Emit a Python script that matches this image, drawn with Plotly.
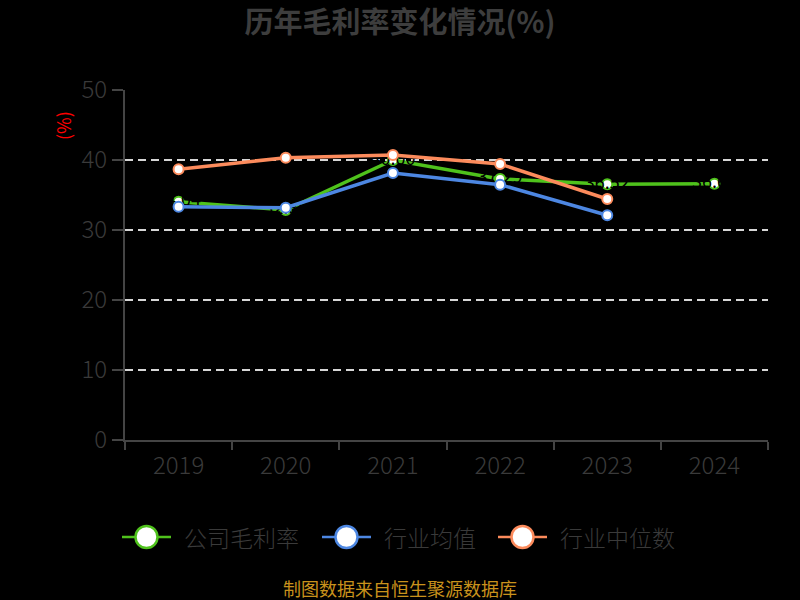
import plotly.graph_objects as go

years = ["2019", "2020", "2021", "2022", "2023", "2024"]
company = [34.04, 32.86, 40.00, 37.29, 36.52, 36.62]
industry_avg = [33.33, 33.19, 38.14, 36.48, 32.10]
industry_median = [38.67, 40.33, 40.71, 39.43, 34.43]
y_ticks = [0, 10, 20, 30, 40, 50]

names = ["公司毛利率", "行业均值", "行业中位数"]
colors = ["#4fc21c", "#4d87e2", "#fc8b5c"]

FONT = "Noto Sans CJK SC, Microsoft YaHei, sans-serif"
W, H = 800, 600
L, R, T, B = 125, 32, 90, 160
PW, PH = W - L - R, H - T - B


def px(x):
    return (x - L) / PW


def py(y):
    return (H - B - y) / PH


fig = go.Figure()

series = [company, industry_avg, industry_median]
for i, vals in enumerate(series):
    fig.add_trace(go.Scatter(
        x=years[:len(vals)], y=vals, name=names[i],
        mode="lines+markers+text" if i == 0 else "lines+markers",
        line=dict(color=colors[i], width=3.5),
        marker=dict(size=10, color="white", line=dict(color=colors[i], width=2)),
        text=[f"{v:.2f}" for v in vals] if i == 0 else None,
        textposition="middle center",
        textfont=dict(color="#000000", size=18, family=FONT),
        showlegend=False,
        cliponaxis=False,
        hoverinfo="skip",
    ))

shapes = []
annotations = []

# manual legend
leg_y = 537
leg_items = [(122, names[0], colors[0]), (322, names[1], colors[1]), (498, names[2], colors[2])]
for x0, nm, c in leg_items:
    shapes.append(dict(type="line", xref="paper", yref="paper",
                       x0=px(x0), x1=px(x0 + 49), y0=py(leg_y), y1=py(leg_y),
                       line=dict(color=c, width=2.5)))
    cx = x0 + 24.5
    r = 11
    shapes.append(dict(type="circle", xref="paper", yref="paper",
                       x0=px(cx - r), x1=px(cx + r), y0=py(leg_y + r), y1=py(leg_y - r),
                       fillcolor="white", line=dict(color=c, width=2.5)))
    annotations.append(dict(xref="paper", yref="paper", x=px(x0 + 60), y=py(leg_y),
                            xanchor="left", yanchor="middle", showarrow=False,
                            text=nm, font=dict(size=23, color="#3a3a3a", family=FONT,
                                               weight=300)))

# y-axis unit
annotations.append(dict(xref="paper", yref="paper", x=px(63), y=py(126),
                        xanchor="center", yanchor="middle", showarrow=False,
                        text="(%)", textangle=-90,
                        font=dict(size=18, color="#ff0000", family=FONT)))

# footer
annotations.append(dict(xref="paper", yref="paper", x=px(400), y=py(588),
                        xanchor="center", yanchor="middle", showarrow=False,
                        text="制图数据来自恒生聚源数据库",
                        font=dict(size=18, color="#c9921c", family=FONT)))

fig.update_layout(
    width=W, height=H,
    paper_bgcolor="#000000", plot_bgcolor="#000000",
    margin=dict(l=L, r=R, t=T, b=B),
    title=dict(text="<b>历年毛利率变化情况(%)</b>", x=0.5, xanchor="center",
               y=1 - 23 / H, yanchor="middle",
               font=dict(size=29, color="#3d3d3d", family=FONT)),
    shapes=shapes,
    annotations=annotations,
    hovermode=False,
    xaxis=dict(
        type="category", categoryorder="array", categoryarray=years,
        range=[-0.5, 5.5],
        showline=True, linecolor="#444444", linewidth=2,
        ticks="outside", ticklen=8, tickwidth=2, tickcolor="#444444",
        tickson="boundaries",
        ticklabelstandoff=3,
        showgrid=False, zeroline=False,
        tickfont=dict(size=24, color="#3a3a3a", family=FONT, weight=300),
    ),
    yaxis=dict(
        range=[0, 50], tickvals=y_ticks,
        showline=True, linecolor="#444444", linewidth=2,
        ticks="outside", ticklen=11, tickwidth=2, tickcolor="#444444",
        showgrid=True, gridcolor="#d6d6d6", gridwidth=1.5, griddash="8px,5px",
        zeroline=False,
        tickfont=dict(size=24, color="#3a3a3a", family=FONT, weight=300),
    ),
)

fig.write_html(
    "out.html",
    config={"displayModeBar": False},
    post_script="document.body.style.margin='0';document.body.style.background='#000';",
)
